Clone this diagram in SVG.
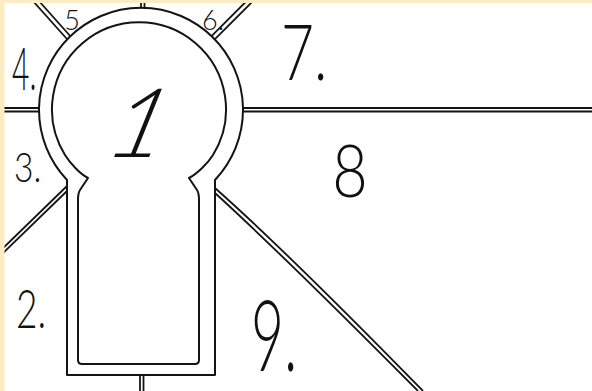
<svg xmlns="http://www.w3.org/2000/svg" width="592" height="391" viewBox="0 0 592 391">
  <defs>
    <style>
      .ln { fill: none; stroke: #141414; stroke-width: 1.8; stroke-linecap: butt; stroke-linejoin: round; }
      .key { fill: none; stroke: #141414; stroke-width: 2; stroke-linejoin: round; }
      .lbl { font-family: Lato, "Open Sans", "Liberation Sans", sans-serif; font-weight: 300; fill: #111; }
    </style>
  </defs>
  <rect x="0" y="0" width="592" height="391" fill="#ffffff"/>

  <g id="connectors">
    <!-- top stem -->
    <line class="ln" x1="141" y1="0" x2="141" y2="8.5"/>
    <line class="ln" x1="144.5" y1="0" x2="144.5" y2="8.5"/>
    <!-- upper-left spoke (5/4) -->
    <line class="ln" x1="67.4" y1="39.5" x2="32" y2="0"/>
    <line class="ln" x1="70.6" y1="36.5" x2="38" y2="0"/>
    <!-- upper-right spoke (6/7) -->
    <line class="ln" x1="211.5" y1="36.1" x2="247.6" y2="0"/>
    <line class="ln" x1="214.7" y1="39.3" x2="254" y2="0"/>
    <!-- left horizontal spoke (4/3) -->
    <line class="ln" x1="0" y1="108" x2="39.2" y2="108"/>
    <line class="ln" x1="0" y1="111.5" x2="39.2" y2="111.5"/>
    <!-- right horizontal spoke (7/8) -->
    <line class="ln" x1="242.8" y1="108" x2="592" y2="108"/>
    <line class="ln" x1="242.8" y1="111.5" x2="592" y2="111.5"/>
    <!-- lower-left spoke (3/2) -->
    <line class="ln" x1="67" y1="186" x2="0" y2="251"/>
    <line class="ln" x1="67" y1="191" x2="0" y2="256"/>
    <!-- lower-right spoke (8/9) -->
    <path class="ln" d="M215,188 Q285,250 423,391"/>
    <path class="ln" d="M215,193 Q283,255 418,391"/>
    <!-- bottom stem -->
    <line class="ln" x1="140" y1="375" x2="140" y2="391"/>
    <line class="ln" x1="143.5" y1="375" x2="143.5" y2="391"/>
  </g>

  <g id="node-1">
    <path class="key" d="M67,180 A102,102 0 1 1 215,180 L215,375 L67,375 Z"/>
    <path class="key" d="M65,155 A87,87 0 1 1 213,155 C208,163 197,174 189,178 L197,190 Q199,193 199,200 L199,360 Q199,364 195,364 L82,364 Q78,364 78,360 L78,200 Q78,193 80,190 L88,178 C80,174 70,163 65,155 Z"/>
    <text class="lbl" transform="translate(129,157) skewX(-22)" font-size="96" text-anchor="middle">1</text>
  </g>

  <g id="node-2">
    <text class="lbl" transform="translate(16,328) scale(0.7,1)" font-size="53">2.</text>
  </g>
  <g id="node-3">
    <text class="lbl" transform="translate(14,182) scale(0.8,1)" font-size="42">3.</text>
  </g>
  <g id="node-4">
    <text class="lbl" transform="translate(12,90) scale(0.5,1)" font-size="60">4.</text>
  </g>
  <g id="node-5">
    <text class="lbl" x="72" y="30" font-size="27" text-anchor="middle">5</text>
  </g>
  <g id="node-6">
    <text class="lbl" x="202" y="30" font-size="27">6.</text>
  </g>
  <g id="node-7">
    <text class="lbl" transform="translate(281,80) scale(0.75,1)" font-size="76">7.</text>
  </g>
  <g id="node-8">
    <text class="lbl" transform="translate(350,197) scale(0.85,1)" font-size="72" text-anchor="middle">8</text>
  </g>
  <g id="node-9">
    <text class="lbl" transform="translate(251,371) scale(0.58,1)" font-size="98">9.</text>
  </g>

  <rect x="0" y="0" width="592" height="3" fill="#fdecc2"/>
  <rect x="0" y="0" width="4.5" height="391" fill="#fdecc2"/>
</svg>
